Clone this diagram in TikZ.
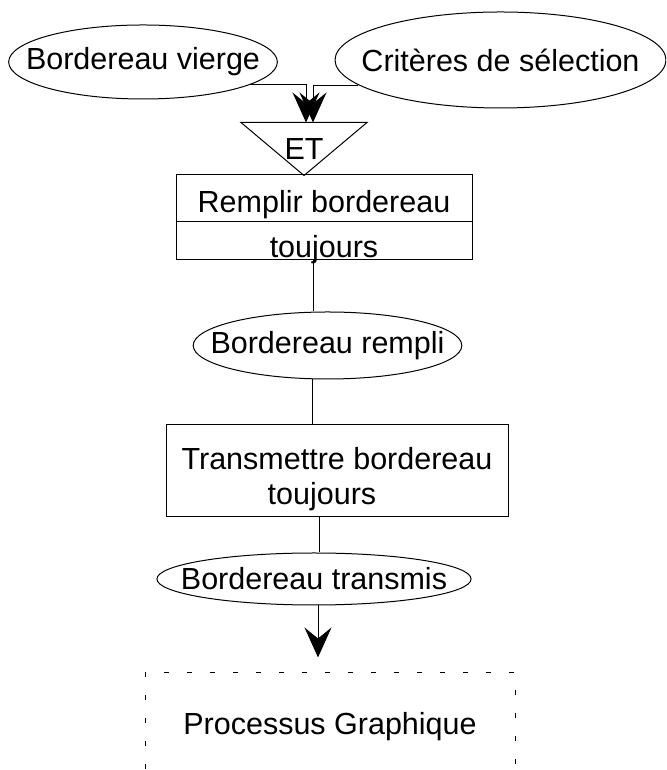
\documentclass[tikz,border=0pt]{standalone}
\usepackage{fontspec}
\setmainfont{Liberation Sans}
\usepackage{xcolor}
\usepackage{tikz}
\usetikzlibrary{shapes.geometric,arrows.meta}

\begin{document}
\begin{tikzpicture}[
	font=\fontsize{30.5pt}{35pt}\selectfont,
	line width=1pt,
	evenement/.style={ellipse, draw, inner xsep=-22pt, inner ysep=0pt},
	tache/.style={rectangle, draw, inner sep=0pt},
	fleche/.style={-{Stealth[length=30pt, width=27pt, inset=11pt]}}
	]
	\useasboundingbox (0pt, 0pt) rectangle (666pt, 770pt);
	\clip (0pt, 0pt) rectangle (666pt, 770pt);
	\node[evenement, minimum height=74pt] (vierge) at (143pt, 708pt) {Bordereau vierge};
	\node[evenement, minimum height=96pt] (criteres) at (500.5pt, 710pt) {Critères de sélection};
	\node[inner sep=0pt, minimum width=125pt, minimum height=52pt] (et) at (304pt, 621pt) {ET};
	\draw (et.north west) -- (et.north east) -- (et.south) -- cycle;
	\draw[fleche] (vierge.-12) -| ([xshift=2pt]et.north);
	\draw[fleche] (criteres.190) -| ([xshift=9pt]et.north);
	\node[tache, minimum width=296pt, text height=38pt, text depth=9pt] (remplir) at (324pt, 571.5pt) {Remplir bordereau};
	\node[tache, minimum width=296pt, text height=36pt, text depth=2pt] (toujours) at (324pt, 529pt) {toujours};
	\node[evenement, minimum height=67pt] (rempli) at (327.5pt, 424.5pt) {Bordereau rempli};
	\node[tache, minimum width=342pt, align=center, text height=80pt, text depth=12pt] (transmettre) at (337pt, 299pt) {Transmettre bordereau\\toujours\hspace*{30pt}};
	\node[evenement, minimum height=52pt] (transmis) at (314pt, 191pt) {Bordereau transmis};
	\node[tache, dash pattern=on 5pt off 18pt, minimum width=370pt, text height=62pt, text depth=50pt] (graphique) at (330pt, 41pt) {Processus Graphique};
	\draw ([xshift=-11pt]toujours.south) -- ([xshift=-11pt]toujours.south |- rempli.north);
	\draw ([xshift=-15pt]rempli.south) -- ([xshift=-15pt]rempli.south |- transmettre.north);
	\draw ([xshift=-18pt]transmettre.south) -- ([xshift=-18pt]transmettre.south |- transmis.north);
	\draw[fleche, shorten >=15pt] ([xshift=4pt]transmis.south) -- ([xshift=4pt]transmis.south |- graphique.north);
\end{tikzpicture}
\end{document}
